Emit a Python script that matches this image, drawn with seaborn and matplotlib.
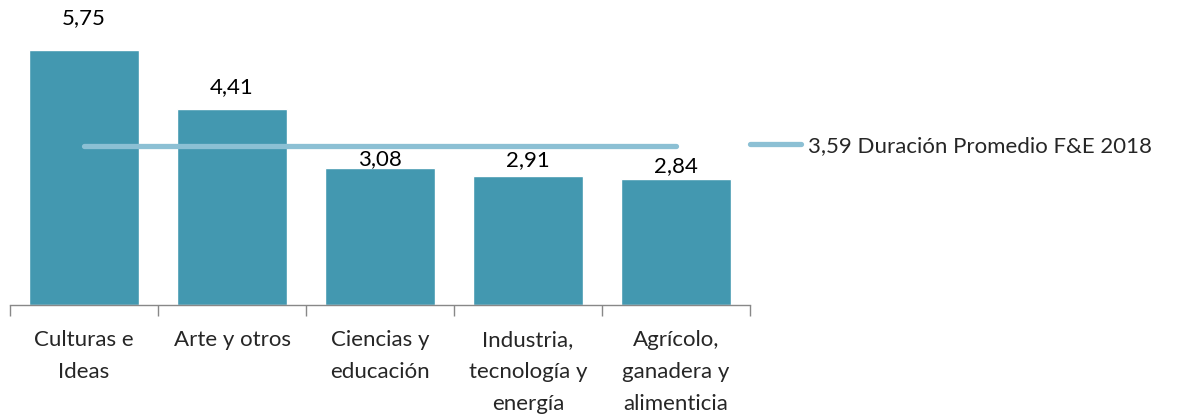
import numpy as np
import pandas as pd
import matplotlib.pyplot as plt
import seaborn as sns

categories = ["Culturas e\nIdeas", "Arte y otros", "Ciencias y\neducación",
              "Industria,\ntecnología y\nenergía", "Agrícolo,\nganadera y\nalimenticia"]
duration = [5.75, 4.41, 3.08, 2.91, 2.84]
average = 3.59
average_label = "3,59 Duración Promedio F&E 2018"

# vertical gap (pixels) between bar top and label centre, as placed in the original
label_gap_px = [32, 22, 9, 16, 13]

sns.set_style("white")
plt.rcParams['font.family'] = ['Lato', 'DejaVu Sans']

df = pd.DataFrame({"cat": categories, "val": duration})

fig = plt.figure(figsize=(11.91, 4.18), dpi=100)
ax = fig.add_axes([10 / 1191, 113 / 418, 740 / 1191, 305 / 418])

sns.barplot(data=df, x="cat", y="val", color="#4398B0", saturation=1,
            width=0.74, ax=ax)

ax.plot([0, len(categories) - 1], [average, average], color="#8CC0D4", lw=3.8,
        solid_capstyle="round", label=average_label)

for i, v in enumerate(duration):
    ax.annotate(f"{v:.2f}".replace(".", ","), (i, v), xytext=(0, label_gap_px[i] * 0.72),
                textcoords="offset points", ha="center", va="center",
                fontsize=16, color="black")

ax.set_xlim(-0.5, len(categories) - 0.5)
ax.set_ylim(0, 305 / 44.35)
ax.set_xlabel("")
ax.set_ylabel("")
ax.set_yticks([])
ax.set_xticks(np.arange(-0.5, len(categories)), labels=[])
ax.set_xticks(np.arange(len(categories)), labels=categories, minor=True,
              linespacing=1.75, multialignment="center", fontsize=16)
ax.tick_params(axis="x", which="major", bottom=True, direction="out", length=8,
               width=1, color="#888888")
ax.tick_params(axis="x", which="minor", bottom=True, length=0, pad=18)

for s in ["top", "right", "left"]:
    ax.spines[s].set_visible(False)
ax.spines["bottom"].set_color("#888888")
ax.spines["bottom"].set_linewidth(1)

leg = ax.legend(loc="center left", bbox_to_anchor=(1.0, 1 - 146 / 305),
                frameon=False, fontsize=16, handlelength=2.3, handletextpad=0.3,
                borderaxespad=0, borderpad=0)

fig.savefig("out.png", dpi=100)
